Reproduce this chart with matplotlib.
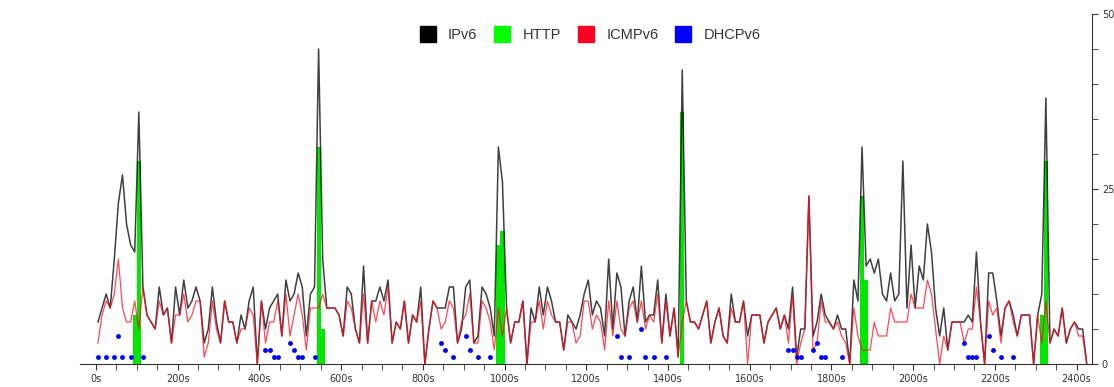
import numpy as np
import matplotlib.pyplot as plt
from matplotlib.lines import Line2D

# packets per 10 s bin (bins centred on 5 s, 15 s, 25 s, ...)
ipv6 = [6, 8, 10, 8, 15, 23, 27, 20, 17, 16,
        36, 11, 7, 6, 5, 11, 7, 8, 3, 11,
        7, 12, 8, 9, 11, 9, 3, 5, 11, 6,
        3, 9, 6, 6, 3, 7, 5, 9, 11, 0,
        9, 5, 8, 9, 10, 4, 12, 9, 10, 13,
        11, 4, 10, 11, 45, 15, 8, 8, 8, 7,
        4, 11, 10, 5, 3, 14, 3, 9, 9, 11,
        9, 12, 3, 6, 5, 9, 3, 7, 6, 11,
        0, 5, 9, 8, 8, 8, 11, 11, 3, 5,
        11, 12, 3, 4, 11, 10, 8, 4, 31, 26,
        8, 3, 6, 6, 9, 0, 8, 6, 11, 7,
        11, 9, 6, 6, 2, 7, 6, 5, 7, 10,
        12, 7, 9, 8, 4, 15, 5, 13, 11, 4,
        9, 11, 6, 14, 6, 7, 7, 12, 3, 10,
        4, 8, 1, 42, 9, 6, 6, 5, 7, 9,
        3, 6, 8, 4, 3, 10, 6, 6, 9, 4,
        7, 7, 7, 3, 6, 7, 8, 5, 7, 5,
        11, 1, 5, 5, 24, 4, 6, 10, 7, 6,
        5, 7, 5, 5, 0, 12, 9, 31, 14, 15,
        13, 15, 10, 9, 13, 9, 10, 29, 8, 17,
        8, 14, 12, 20, 16, 8, 4, 8, 2, 6,
        6, 6, 6, 7, 6, 16, 6, 0, 13, 13,
        9, 4, 8, 9, 7, 4, 7, 7, 7, 0,
        7, 10, 38, 3, 5, 4, 8, 3, 5, 6,
        5, 5, 0]

icmpv6 = [3, 7, 9, 8, 10, 15, 8, 6, 6, 9,
          5, 11, 7, 6, 5, 9, 7, 8, 3, 7,
          7, 10, 6, 7, 9, 9, 1, 3, 9, 5,
          3, 9, 6, 6, 3, 5, 5, 8, 7, 0,
          9, 3, 6, 6, 9, 4, 10, 4, 7, 10,
          7, 2, 8, 8, 8, 10, 8, 8, 8, 7,
          4, 9, 8, 5, 3, 10, 3, 9, 6, 9,
          7, 11, 3, 6, 5, 9, 3, 7, 6, 9,
          0, 5, 9, 8, 5, 6, 9, 8, 3, 6,
          7, 10, 3, 3, 9, 8, 6, 2, 8, 4,
          8, 3, 6, 6, 9, 0, 6, 6, 9, 5,
          9, 7, 6, 6, 2, 6, 6, 3, 4, 9,
          9, 5, 7, 6, 2, 9, 4, 9, 5, 4,
          8, 9, 6, 9, 5, 7, 6, 10, 3, 9,
          4, 8, 1, 6, 9, 6, 6, 5, 7, 9,
          3, 6, 8, 4, 3, 8, 6, 6, 9, 0,
          7, 7, 7, 3, 6, 7, 8, 5, 7, 3,
          10, 0, 3, 5, 24, 2, 3, 9, 6, 6,
          5, 6, 4, 3, 0, 8, 4, 2, 2, 2,
          6, 4, 4, 4, 8, 6, 6, 6, 6, 10,
          8, 8, 8, 12, 10, 5, 0, 4, 2, 6,
          6, 6, 3, 5, 5, 11, 6, 0, 9, 7,
          8, 3, 8, 9, 6, 4, 7, 7, 7, 0,
          7, 3, 9, 3, 5, 4, 8, 3, 5, 6,
          4, 4, 0]

http_t = [95, 105, 545, 555, 985, 995, 1435, 1875, 1885, 2315, 2325]
http_v = [7, 29, 31, 5, 17, 19, 36, 24, 12, 7, 29]

dhcp_t = [5, 25, 45, 55, 65, 85, 115,
          415, 425, 435, 445, 475, 485, 495, 505, 535,
          845, 855, 875, 905, 915, 935, 965,
          1275, 1285, 1305, 1335, 1345, 1365, 1395,
          1695, 1705, 1715, 1725, 1755, 1765, 1775, 1785, 1825,
          2125, 2135, 2145, 2155, 2185, 2195, 2215, 2245]
dhcp_v = [1, 1, 1, 4, 1, 1, 1,
          2, 2, 1, 1, 3, 2, 1, 1, 1,
          3, 2, 1, 4, 2, 1, 1,
          4, 1, 1, 5, 1, 1, 1,
          2, 2, 1, 1, 2, 3, 1, 1, 1,
          3, 1, 1, 1, 4, 2, 1, 1]

t = np.arange(len(ipv6)) * 10 + 5

fig = plt.figure(figsize=(11.14, 3.87), dpi=100)
ax = fig.add_axes([0.0718, 0.0594, 0.9085, 0.9044])

ax.bar(http_t, http_v, width=10, color='#00e800', zorder=1)
ax.plot(t, ipv6, color='black', lw=1.1, alpha=0.75, zorder=2)
ax.plot(t, icmpv6, color='#ff0a1e', lw=0.9, alpha=0.75, zorder=3)
ax.plot(dhcp_t, dhcp_v, 'o', color='#0000ff', ms=3.5, mec='none', zorder=4)

ax.set_xlim(-39, 2438)
ax.set_ylim(0, 50)

for s in ['top', 'left']:
    ax.spines[s].set_visible(False)
ax.spines['bottom'].set_color('#333333')
ax.spines['right'].set_color('#333333')

ax.yaxis.tick_right()
ax.set_xticks(np.arange(0, 2401, 200))
ax.set_xticklabels([f'{v}s' for v in range(0, 2401, 200)])
ax.set_xticks(np.arange(0, 2438, 50), minor=True)
ax.set_yticks([0, 25, 50])
ax.set_yticks(np.arange(0, 51, 5), minor=True)
ax.tick_params(axis='both', which='both', direction='out', length=4,
               color='#333333', labelsize=7, labelcolor='#333333', pad=3)

handles = [Line2D([], [], ls='none', marker='s', ms=11.5, color=c)
           for c in ['black', '#00ff00', '#ff0022', '#0000ff']]
fig.legend(handles, ['IPv6', 'HTTP', 'ICMPv6', 'DHCPv6'], ncol=4,
           loc='center', bbox_to_anchor=(0.530, 0.9096), frameon=False,
           handlelength=1.0, handletextpad=0.9, columnspacing=1.2,
           prop={'family': ['Liberation Sans', 'DejaVu Sans'], 'size': 10.5},
           labelcolor='#333333')

fig.savefig('out.png', dpi=100)
